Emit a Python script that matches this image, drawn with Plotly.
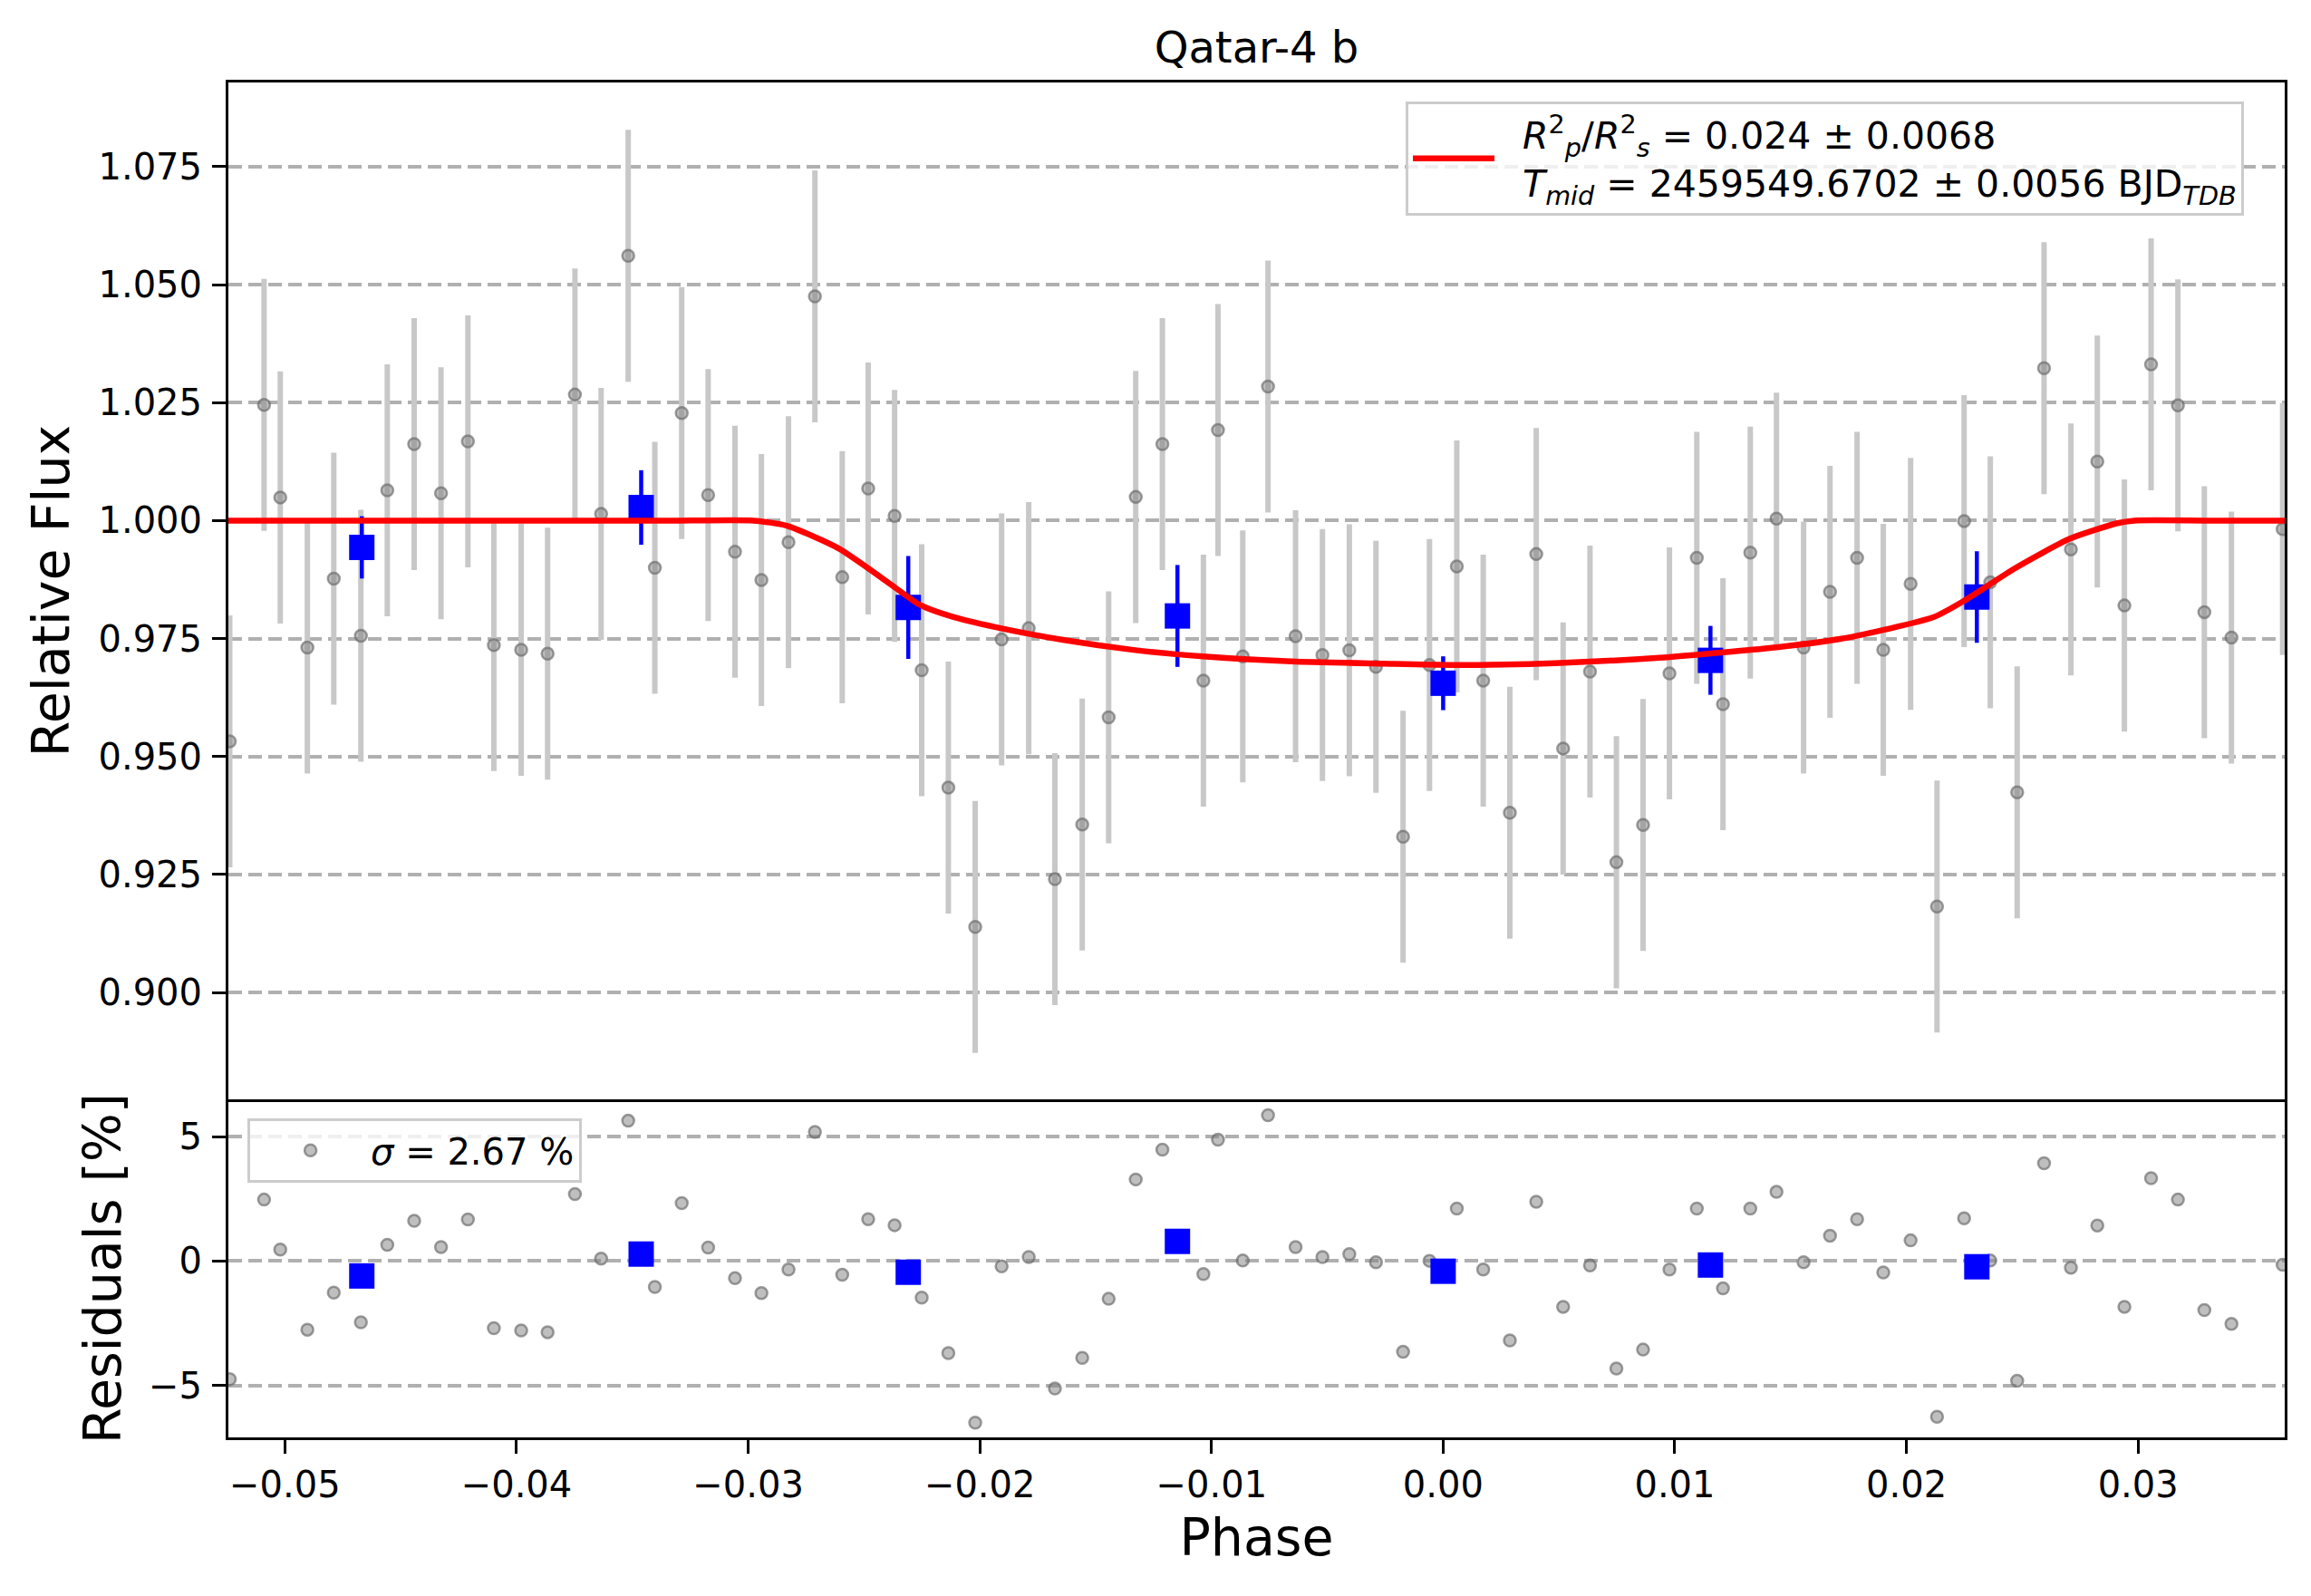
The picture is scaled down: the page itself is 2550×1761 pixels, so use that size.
import plotly.graph_objects as go
from plotly.subplots import make_subplots

# ---------------- data ----------------
phase = [-0.05238, -0.05090, -0.05020, -0.04903, -0.04789, -0.04672, -0.04558, -0.04442,
         -0.04326, -0.04210, -0.04098, -0.03980, -0.03866, -0.03748, -0.03635, -0.03518,
         -0.03403, -0.03287, -0.03173, -0.03057, -0.02943, -0.02826, -0.02712, -0.02594,
         -0.02482, -0.02368, -0.02251, -0.02136, -0.02020, -0.01906, -0.01789, -0.01676,
         -0.01558, -0.01444, -0.01327, -0.01212, -0.01035, -0.00972, -0.00865, -0.00756,
         -0.00637, -0.00521, -0.00405, -0.00290, -0.00173, -0.00059, 0.00059, 0.00173,
         0.00288, 0.00402, 0.00518, 0.00634, 0.00748, 0.00863, 0.00977, 0.01095,
         0.01208, 0.01326, 0.01439, 0.01556, 0.01670, 0.01787, 0.01900, 0.02018,
         0.02132, 0.02249, 0.02362, 0.02478, 0.02594, 0.02710, 0.02824, 0.02941,
         0.03056, 0.03172, 0.03286, 0.03403, 0.03624]

flux = [0.9532, 1.0245, 1.0049, 0.9731, 0.9877, 0.9756, 1.0064, 1.0162,
        1.0058, 1.0168, 0.9736, 0.9726, 0.9718, 1.0267, 1.0014, 1.0561,
        0.9900, 1.0228, 1.0054, 0.9934, 0.9874, 0.9954, 1.0475, 0.9880,
        1.0068, 1.0010, 0.9683, 0.9434, 0.9139, 0.9748, 0.9772, 0.9240,
        0.9356, 0.9583, 1.0050, 1.0162, 0.9661, 1.0192, 0.9712, 1.0284,
        0.9755, 0.9715, 0.9725, 0.9690, 0.9330, 0.9694, 0.9903, 0.9661,
        0.9381, 0.9929, 0.9517, 0.9680, 0.9276, 0.9355, 0.9676, 0.9921,
        0.9611, 0.9932, 1.0004, 0.9731, 0.9849, 0.9921, 0.9726, 0.9866,
        0.9182, 0.9999, 0.9869, 0.9424, 1.0323, 0.9939, 1.0125, 0.9820,
        1.0331, 1.0244, 0.9806, 0.9752, 0.9982]

flux_err = 0.0267

residual = [-4.75, 2.47, 0.46, -2.76, -1.27, -2.46, 0.65, 1.62,
            0.56, 1.67, -2.70, -2.79, -2.86, 2.69, 0.10, 5.64,
            -1.04, 2.33, 0.54, -0.69, -1.29, -0.34, 5.19, -0.55,
            1.68, 1.44, -1.47, -3.70, -6.50, -0.21, 0.16, -5.12,
            -3.89, -1.52, 3.28, 4.48, -0.52, 4.88, 0.02, 5.86,
            0.56, 0.16, 0.28, -0.05, -3.65, 0.01, 2.11, -0.34,
            -3.19, 2.38, -1.84, -0.18, -4.32, -3.56, -0.34, 2.11,
            -1.10, 2.11, 2.78, -0.05, 1.02, 1.68, -0.46, 0.83,
            -6.26, 1.72, 0.02, -4.81, 3.93, -0.27, 1.43, -1.84,
            3.33, 2.47, -1.97, -2.53, -0.15]

bin_phase = [-0.04668, -0.03462, -0.02309, -0.01147, 0.0, 0.01154, 0.02304]
bin_flux = [0.99432, 1.00277, 0.98159, 0.97979, 0.96553, 0.97038, 0.98380]
bin_err = [0.0066, 0.0079, 0.0109, 0.0108, 0.0057, 0.0073, 0.0097]
bin_residual = [-0.60, 0.28, -0.45, 0.79, -0.41, -0.16, -0.23]

model_phase = [-0.05244, -0.0400, -0.0330, -0.02978, -0.02833, -0.02608, -0.02383, -0.02264,
               -0.02129, -0.01934, -0.01635, -0.01336, -0.01036, -0.00635, -0.00264,
               0.00035, 0.00484, 0.00933, 0.01233, 0.01439, 0.01733, 0.02116, 0.02248,
               0.02469, 0.02704, 0.02911, 0.02984, 0.0330, 0.03633]
model_flux = [1.0, 1.0, 1.0, 1.0, 0.99889, 0.99405, 0.98643, 0.98228,
              0.97979, 0.97744, 0.97467, 0.97259, 0.97121, 0.97010, 0.96968,
              0.96941, 0.96980, 0.97093, 0.97218, 0.97314, 0.97508, 0.97951, 0.98297,
              0.98989, 0.99612, 0.99945, 1.0, 1.0, 1.0]

x_ticks = [-0.05, -0.04, -0.03, -0.02, -0.01, 0.0, 0.01, 0.02, 0.03]
x_ticktext = ["\u22120.05", "\u22120.04", "\u22120.03", "\u22120.02", "\u22120.01",
              "0.00", "0.01", "0.02", "0.03"]
flux_ticks = [0.900, 0.925, 0.950, 0.975, 1.000, 1.025, 1.050, 1.075]
flux_ticktext = ["0.900", "0.925", "0.950", "0.975", "1.000", "1.025", "1.050", "1.075"]
res_ticks = [-5, 0, 5]
res_ticktext = ["\u22125", "0", "5"]

title_text = "Qatar-4 b"
NB = "\u00a0\u00a0"
model_label = (NB + "<i>R</i><sup>2</sup><sub><i>p</i></sub>/<i>R</i><sup>2</sup><sub><i>s</i></sub>"
               " = 0.024 \u00b1 0.0068<br>" + NB +
               "<i>T</i><sub><i>mid</i></sub> = 2459549.6702 \u00b1 0.0056 BJD<sub><i>TDB</i></sub>")
res_label = "<i>\u03c3</i> = 2.67 %"

# ---------------- figure ----------------
# The page body adds an 8 px offset, so the figure is 8 px smaller than the window.
OFF = 8
W, H = 2550 - OFF, 1761 - OFF
FONT = "DejaVu Sans"
gray_marker = dict(size=13, color="rgba(128,128,128,0.5)",
                   line=dict(color="rgba(105,105,105,0.65)", width=2.5))

fig = make_subplots(rows=2, cols=1, shared_xaxes=True, vertical_spacing=0,
                    row_heights=[0.7505, 0.2495])

fig.add_trace(go.Scatter(
    x=phase, y=flux, mode="markers", marker=gray_marker,
    error_y=dict(type="constant", value=flux_err, color="rgba(200,200,200,1)",
                 thickness=6, width=0),
    showlegend=False, hoverinfo="skip"), row=1, col=1)

fig.add_trace(go.Scatter(
    x=bin_phase, y=bin_flux, mode="markers",
    marker=dict(symbol="square", size=28, color="blue", line=dict(width=0)),
    error_y=dict(type="data", array=bin_err, color="blue", thickness=4.5, width=0),
    showlegend=False, hoverinfo="skip"), row=1, col=1)

fig.add_trace(go.Scatter(
    x=model_phase, y=model_flux, mode="lines",
    line=dict(color="red", width=6.5, shape="spline", smoothing=0.6),
    name=model_label, legend="legend"), row=1, col=1)

fig.add_trace(go.Scatter(
    x=phase, y=residual, mode="markers", marker=gray_marker,
    name=res_label, legend="legend2"), row=2, col=1)

fig.add_trace(go.Scatter(
    x=bin_phase, y=bin_residual, mode="markers",
    marker=dict(symbol="square", size=28, color="blue", line=dict(width=0)),
    showlegend=False, hoverinfo="skip"), row=2, col=1)

TICKFONT = dict(family=FONT, size=40, color="black")
LABELFONT = dict(family=FONT, size=57, color="black")
line_common = dict(showline=True, linecolor="black", linewidth=3, zeroline=False,
                   tickcolor="black", tickwidth=3, ticklen=15)

xr = [-0.05244, 0.03633]
fig.update_xaxes(range=xr, showgrid=False, ticks="", showticklabels=False, mirror=True,
                 row=1, col=1, **line_common)
fig.update_xaxes(range=xr, showgrid=False, ticks="outside", tickvals=x_ticks,
                 ticktext=x_ticktext, tickfont=TICKFONT, mirror=False, row=2, col=1,
                 title=dict(text="Phase", font=LABELFONT, standoff=17),
                 **line_common)

grid = dict(showgrid=True, gridcolor="#b0b0b0", gridwidth=3.5, griddash="15px,7px")
fig.update_yaxes(range=[0.87735, 1.09284], ticks="outside", tickvals=flux_ticks,
                 ticktext=flux_ticktext, tickfont=TICKFONT, mirror=True,
                 ticklabelstandoff=3, row=1, col=1,
                 title=dict(text="Relative Flux", font=LABELFONT, standoff=14),
                 **grid, **line_common)
fig.update_yaxes(range=[-7.09, 6.50], ticks="outside", tickvals=res_ticks,
                 ticktext=res_ticktext, tickfont=TICKFONT, mirror=True,
                 ticklabelstandoff=3, row=2, col=1,
                 title=dict(text="Residuals [%]", font=LABELFONT, standoff=13),
                 **grid, **line_common)

fig.update_layout(
    width=W, height=H,
    margin=dict(l=252 - OFF, r=29, t=91 - OFF, b=175, pad=0, autoexpand=False),
    paper_bgcolor="white", plot_bgcolor="white",
    font=dict(family=FONT, size=40, color="black"),
    title=dict(text=title_text, x=(1386.5 - OFF) / W, xanchor="center",
               y=1 - (52 - OFF) / H, yanchor="middle",
               font=dict(family=FONT, size=48, color="black")),
    legend=dict(x=0.5725, y=0.986, xanchor="left", yanchor="top",
                bgcolor="rgba(255,255,255,0.8)", bordercolor="#cccccc", borderwidth=3,
                font=dict(family=FONT, size=41, color="black"), itemwidth=90),
    legend2=dict(x=0.0093, y=0.2356, xanchor="left", yanchor="top",
                 bgcolor="rgba(255,255,255,0.8)", bordercolor="#cccccc", borderwidth=3,
                 font=dict(family=FONT, size=40, color="black"), itemwidth=123),
)

fig.write_html("out.html")
